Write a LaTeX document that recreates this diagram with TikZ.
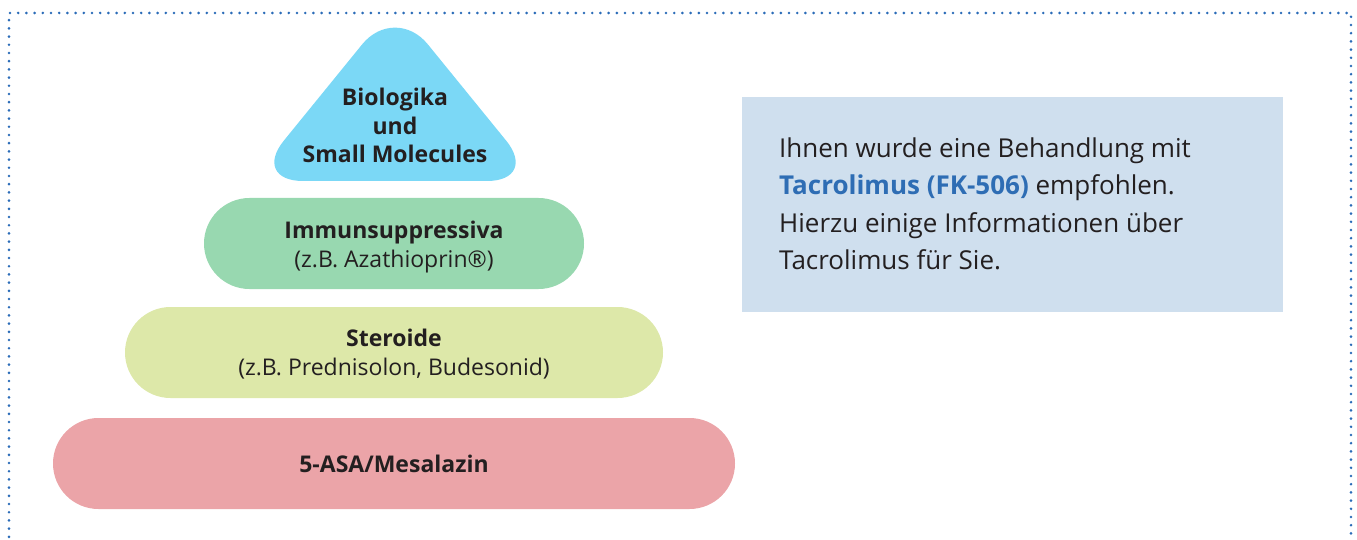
\documentclass[tikz,border=0pt]{standalone}
\usepackage{fontspec}
\setmainfont{Open Sans}
\definecolor{dotblue}{HTML}{2B6CB8}
\definecolor{triblue}{HTML}{7BD8F6}
\definecolor{pillgreen}{HTML}{98D8B0}
\definecolor{pillyellow}{HTML}{DDE8A9}
\definecolor{pillpink}{HTML}{EBA4A8}
\definecolor{infobg}{HTML}{CFDFEE}
\definecolor{tacblue}{HTML}{2E6DB4}
\definecolor{txt}{HTML}{231F20}
\tikzset{
  pill/.style={rectangle, rounded corners=45.5pt, minimum height=91pt, inner sep=0pt, align=center, text=txt, font=\fontsize{23}{29.5}\selectfont},
  dotline/.style={dotblue, line width=2.9pt, line cap=round, dash pattern=on 0pt off 8.2pt},
  lbl/.style={text=txt, align=center, font=\fontsize{23}{28.5}\selectfont, inner sep=0pt}
}
\begin{document}
\begin{tikzpicture}[x=1pt,y=-1pt]
\useasboundingbox (0,0) rectangle (1357,540);
% dotted frame
\draw[dotline] (9,545) -- (9,13) -- (1351,13) -- (1351,545);
% triangle
\fill[triblue, rounded corners=52pt] (395,4) -- (539,181) -- (251,181) -- cycle;
\node[lbl] (bio) at (395,125.5) {\textbf{Biologika}\\\textbf{und}\\\textbf{Small Molecules}};
% pills
\fill[pillgreen, rounded corners=45.5pt] (204,198) rectangle (584,289);
\fill[pillyellow, rounded corners=45.5pt] (125,307) rectangle (663,398);
\fill[pillpink, rounded corners=45.5pt] (53,418) rectangle (735,509);
\node[pill] (imm) at (394,247) {\textbf{Immunsuppressiva}\\(z.B. Azathioprin®)};
\node[pill] (ster) at (394,354) {\textbf{Steroide}\\(z.B. Prednisolon, Budesonid)};
\node[pill] (asa) at (394,464) {\textbf{5-ASA/Mesalazin}};
% info box
\node[rectangle, fill=infobg, minimum width=541pt, minimum height=215pt, inner sep=0pt] (info) at (1012.5,204.5) {};
\node[anchor=west, align=left, inner sep=0pt, text=txt, font=\fontsize{26}{37.5}\selectfont] (infotext) at (779,204) {Ihnen wurde eine Behandlung mit\\\textcolor{tacblue}{\textbf{Tacrolimus (FK-506)}} empfohlen.\\Hierzu einige Informationen über\\Tacrolimus für Sie.};
\end{tikzpicture}
\end{document}
